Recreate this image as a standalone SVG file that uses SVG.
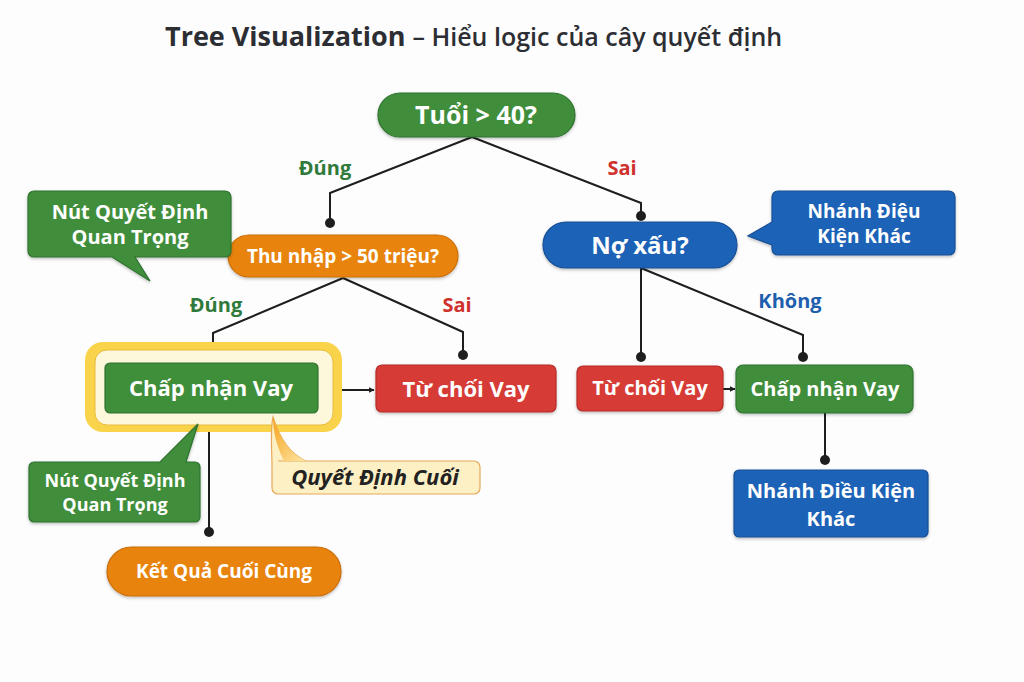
<svg xmlns="http://www.w3.org/2000/svg" width="1024" height="682" viewBox="0 0 1024 682">
<defs>
<style>
text{font-family:"Open Sans","Noto Sans","DejaVu Sans",sans-serif;}
.nt{fill:#ffffff;font-weight:700;text-anchor:middle;}
.lbl{font-weight:700;text-anchor:middle;font-size:20px;}
.green{fill:#3f8e3a;stroke:#2f7330;stroke-width:1.2;}
.orange{fill:#e8840f;stroke:#c96e08;stroke-width:1.2;}
.blue{fill:#1f62b6;stroke:#174f96;stroke-width:1.2;}
.red{fill:#d63a35;stroke:#b52d29;stroke-width:1.2;}
.conn{fill:none;stroke:#1e1e1e;stroke-width:2;}
.dot{fill:#1e1e1e;}
</style>
<filter id="sh" x="-10%" y="-10%" width="120%" height="130%">
<feDropShadow dx="0" dy="1.5" stdDeviation="1.5" flood-color="#000" flood-opacity="0.25"/>
</filter>
<marker id="arr" viewBox="0 0 10 10" refX="9" refY="5" markerWidth="6" markerHeight="6" orient="auto" markerUnits="userSpaceOnUse">
<path d="M0,0 L10,5 L0,10 z" fill="#1e1e1e"/>
</marker>
<linearGradient id="tailg" x1="0" y1="0" x2="1" y2="1">
<stop offset="0" stop-color="#f6a21c"/>
<stop offset="1" stop-color="#fde7a6"/>
</linearGradient>
</defs>
<rect width="1024" height="682" fill="#fdfdfd"/>

<g id="title">
<text x="165" y="46" font-size="27" font-weight="700" fill="#2c2e33">Tree Visualization<tspan font-size="25" font-weight="600" dx="7">– Hiểu logic của cây quyết định</tspan></text>
</g>

<g id="connectors">
<polyline class="conn" points="472,137 330,193 330,223"/>
<circle class="dot" cx="330" cy="223" r="5"/>
<polyline class="conn" points="472,137 641,203 641,216"/>
<circle class="dot" cx="641" cy="216" r="5"/>
<polyline class="conn" points="343,278 213,333 213,355"/>
<circle class="dot" cx="213" cy="355" r="5"/>
<polyline class="conn" points="343,278 463,332 463,355"/>
<circle class="dot" cx="463" cy="355" r="5"/>
<polyline class="conn" points="641,268 641,357"/>
<circle class="dot" cx="641" cy="357" r="5"/>
<polyline class="conn" points="641,268 803,335 803,357"/>
<circle class="dot" cx="803" cy="357" r="5"/>
<line class="conn" x1="825" y1="413" x2="825" y2="460"/>
<circle class="dot" cx="825" cy="460" r="5"/>
<line class="conn" x1="209" y1="413" x2="209" y2="532"/>
<circle class="dot" cx="209" cy="532" r="5"/>
<line class="conn" x1="334" y1="390" x2="374" y2="390" marker-end="url(#arr)" stroke-width="1.6"/>
<line class="conn" x1="723" y1="389" x2="735" y2="389" marker-end="url(#arr)" stroke-width="1.6"/>
<text class="lbl" x="325" y="175" fill="#2f7a3a">Đúng</text>
<text class="lbl" x="622" y="175" fill="#d0312d">Sai</text>
<text class="lbl" x="216" y="312" fill="#2f7a3a">Đúng</text>
<text class="lbl" x="457" y="312" fill="#d0312d">Sai</text>
<text class="lbl" x="790" y="308" fill="#1f5fae">Không</text>
</g>

<g id="root">
<rect class="green" x="378" y="93" width="197" height="44" rx="22" filter="url(#sh)"/>
<text class="nt" x="476" y="124" font-size="25" font-weight="600">Tuổi &gt; 40?</text>
</g>

<g id="income">
<rect class="orange" x="228" y="235" width="230" height="42" rx="21" filter="url(#sh)"/>
<text class="nt" x="343" y="263" font-size="19" font-weight="600">Thu nhập &gt; 50 triệu?</text>
</g>

<g id="debt">
<rect class="blue" x="543" y="222" width="194" height="46" rx="23" filter="url(#sh)"/>
<text class="nt" x="640" y="254" font-size="24" font-weight="600">Nợ xấu?</text>
</g>

<g id="callout-important-top">
<path class="green" d="M34,191 H225 a6,6 0 0 1 6,6 V251 a6,6 0 0 1 -6,6 H135 L150,281 L112,257 H34 a6,6 0 0 1 -6,-6 V197 a6,6 0 0 1 6,-6 z" filter="url(#sh)"/>
<text class="nt" x="130" y="219" font-size="20" font-weight="600">Nút Quyết Định</text>
<text class="nt" x="130" y="244" font-size="20" font-weight="600">Quan Trọng</text>
</g>

<g id="callout-branch-top">
<path class="blue" d="M778,191 H949 a6,6 0 0 1 6,6 V249 a6,6 0 0 1 -6,6 H778 a6,6 0 0 1 -6,-6 V245 L748,236 L772,222 V197 a6,6 0 0 1 6,-6 z" filter="url(#sh)"/>
<text class="nt" x="864" y="218" font-size="19" font-weight="600">Nhánh Điệu</text>
<text class="nt" x="864" y="243" font-size="19" font-weight="600">Kiện Khác</text>
</g>

<g id="accept-left">
<rect x="85" y="342" width="257" height="90" rx="18" fill="#f9d44a"/>
<rect x="95" y="350" width="238" height="75" rx="12" fill="#fdf7dc" stroke="#e8bb3a" stroke-width="1"/>
<rect class="green" x="105" y="363" width="213" height="50" rx="5"/>
<text class="nt" x="211" y="396" font-size="22" font-weight="600">Chấp nhận Vay</text>
</g>

<g id="reject-left">
<rect class="red" x="376" y="365" width="180" height="47" rx="6" filter="url(#sh)"/>
<text class="nt" x="466" y="397" font-size="22" font-weight="600">Từ chối Vay</text>
</g>

<g id="reject-right">
<rect class="red" x="577" y="366" width="146" height="45" rx="6" filter="url(#sh)"/>
<text class="nt" x="650" y="395" font-size="20" font-weight="600">Từ chối Vay</text>
</g>

<g id="accept-right">
<rect class="green" x="736" y="365" width="177" height="48" rx="7" filter="url(#sh)"/>
<text class="nt" x="825" y="396" font-size="20" font-weight="600">Chấp nhận Vay</text>
</g>

<g id="branch-bottom">
<rect class="blue" x="734" y="470" width="194" height="67" rx="5" filter="url(#sh)"/>
<text class="nt" x="831" y="498" font-size="20" font-weight="600">Nhánh Điều Kiện</text>
<text class="nt" x="831" y="526" font-size="20" font-weight="600">Khác</text>
</g>

<g id="callout-important-bottom">
<path class="green" d="M34,462 H160 L198,424 L186,462 H195 a5,5 0 0 1 5,5 V517 a5,5 0 0 1 -5,5 H34 a5,5 0 0 1 -5,-5 V467 a5,5 0 0 1 5,-5 z" filter="url(#sh)"/>
<text class="nt" x="115" y="487" font-size="18" font-weight="600">Nút Quyết Định</text>
<text class="nt" x="115" y="511" font-size="18" font-weight="600">Quan Trọng</text>
</g>

<g id="callout-final">
<path d="M278,461 H474 a6,6 0 0 1 6,6 V488 a6,6 0 0 1 -6,6 H278 a6,6 0 0 1 -6,-6 V467 C272,450 270,430 273,417 C280,440 292,455 306,461 z" fill="#fdf0c4" stroke="#e6a85a" stroke-width="1.2"/>
<path d="M273,417 C280,440 292,455 306,461 L284,461 C276,445 273,430 273,417 z" fill="url(#tailg)"/>
<text x="375" y="485" font-size="22" font-weight="700" font-style="italic" fill="#222" text-anchor="middle">Quyết Định Cuối</text>
</g>

<g id="result">
<rect class="orange" x="107" y="547" width="234" height="49" rx="24.5" filter="url(#sh)"/>
<text class="nt" x="224" y="578" font-size="19" font-weight="600">Kết Quả Cuối Cùng</text>
</g>
</svg>
